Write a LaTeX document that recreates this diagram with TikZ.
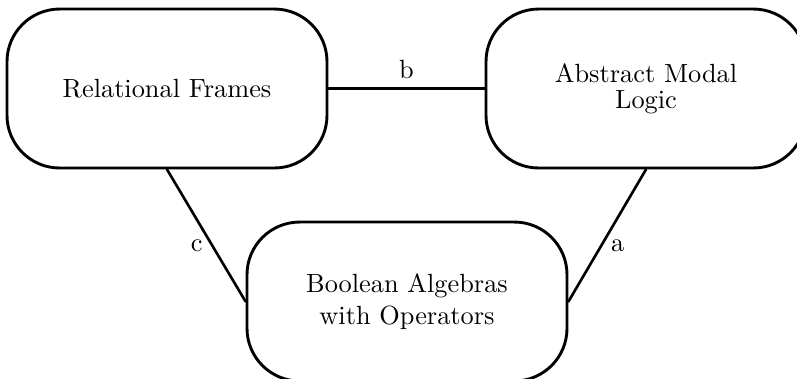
\documentclass[tikz,border=0pt]{standalone}
\usepackage{tikz}
\tikzset{
  algbox/.style={draw, line width=1.1pt, rounded corners=20pt,
    minimum width=121.6pt, minimum height=60.4pt, align=center, inner sep=0pt},
  link/.style={line width=1pt}
}
\begin{document}
\begin{tikzpicture}[x=0.38pt,y=-0.38pt,line cap=round,line join=round]
\useasboundingbox (0,0) rectangle (797,378);
\clip (0,0) rectangle (797,378);
\node[algbox] (frames) at (167,88.5) {Relational Frames};
\node[algbox, font=\fontsize{10}{9.8}\selectfont] (modal) at (646,88.5) {Abstract Modal\\Logic};
\node[algbox] (bao) at (407,301.5) {Boolean Algebras\\with Operators};
\draw[link] (frames) -- node[above] {b} (modal);
\draw[link] (frames.south) -- node[pos=0.58,left] {c} (bao.west);
\draw[link] (modal.south) -- node[pos=0.58,right] {a} (bao.east);
\end{tikzpicture}
\end{document}
